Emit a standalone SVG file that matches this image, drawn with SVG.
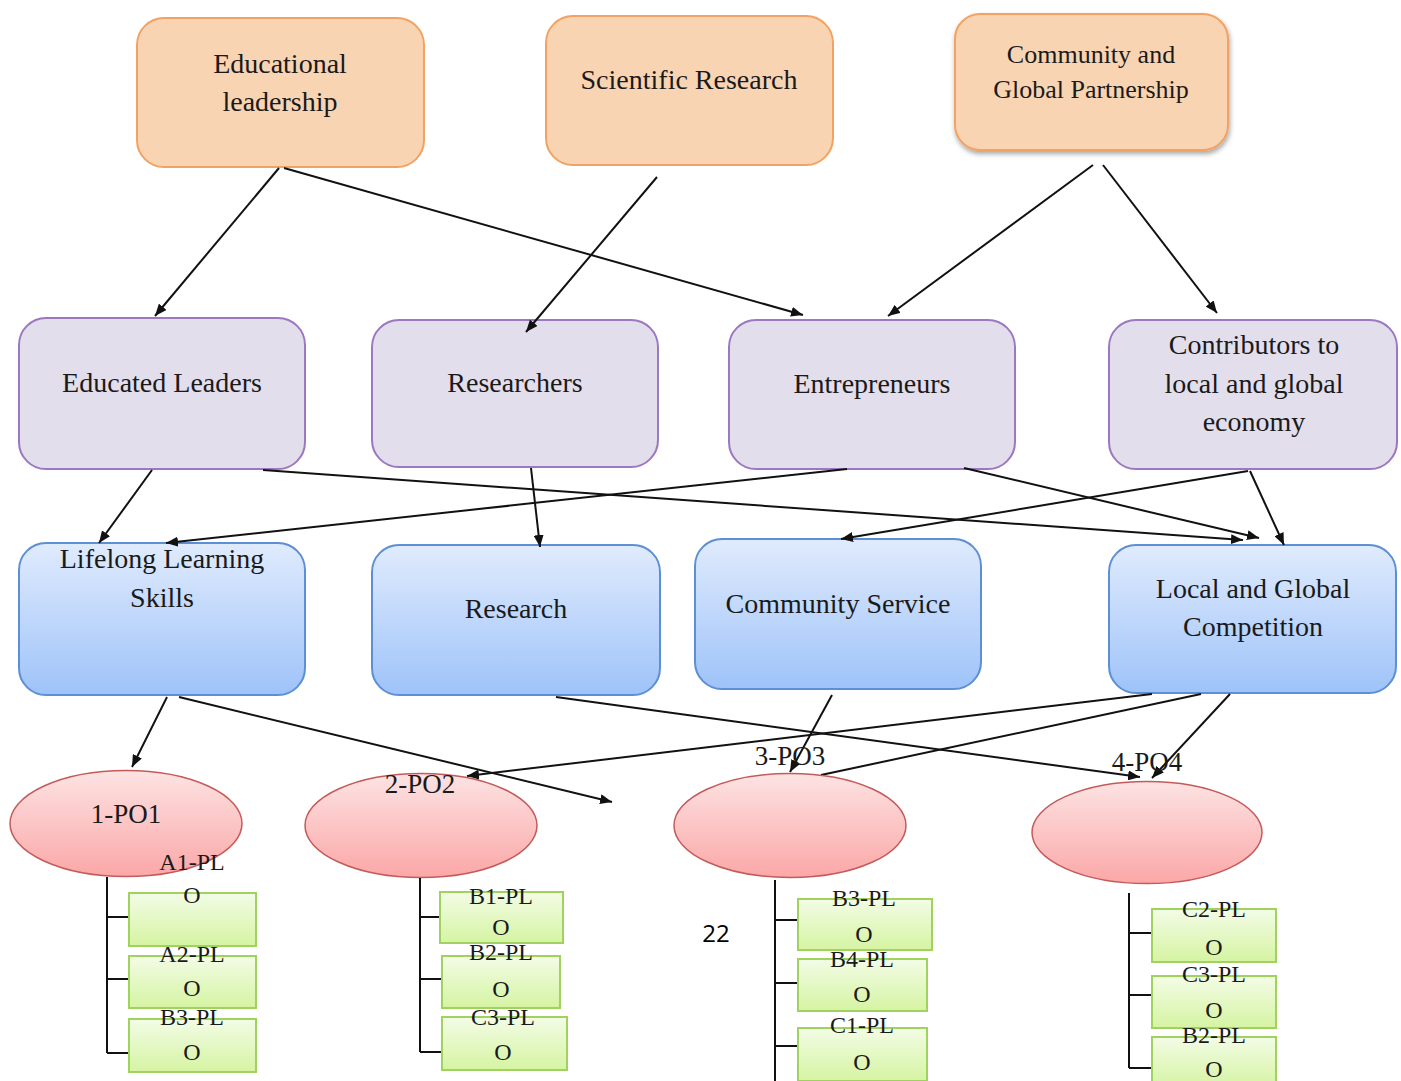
<svg xmlns="http://www.w3.org/2000/svg" width="1401" height="1081" viewBox="0 0 1401 1081">
<style>
  text { font-family: "Liberation Serif", "Times New Roman", serif; fill: #1a1a1a; text-anchor: middle; }
  .t28 { font-size: 28px; }
  .t26 { font-size: 26px; }
  .po { font-size: 27px; }
  .pl { font-size: 24px; }
  .orange { fill: #f9d4b3; stroke: #f2a262; stroke-width: 2; }
  .purple { fill: #e3deeb; stroke: #9b78c0; stroke-width: 2; }
  .blue { fill: url(#gBlue); stroke: #5d8fd4; stroke-width: 2; }
  .pink { fill: url(#gPink); stroke: #c45a5a; stroke-width: 1.5; }
  .green { fill: url(#gGreen); stroke: #9fd35e; stroke-width: 2; }
  .conn line { stroke: #111; stroke-width: 2; fill: none; }
  .arr { marker-end: url(#ah); }
  .tree { stroke: #111; stroke-width: 2; fill: none; }
</style>
<defs>
  <linearGradient id="gBlue" x1="0" y1="0" x2="0" y2="1">
    <stop offset="0" stop-color="#e0ebfd"/>
    <stop offset="1" stop-color="#9ec3f9"/>
  </linearGradient>
  <linearGradient id="gPink" x1="0" y1="0" x2="0" y2="1">
    <stop offset="0" stop-color="#fde3e3"/>
    <stop offset="1" stop-color="#fba7a7"/>
  </linearGradient>
  <linearGradient id="gGreen" x1="0" y1="0" x2="0" y2="1">
    <stop offset="0" stop-color="#f3fce6"/>
    <stop offset="1" stop-color="#d5f4a2"/>
  </linearGradient>
  <filter id="shadow" x="-10%" y="-10%" width="120%" height="130%">
    <feDropShadow dx="1" dy="3" stdDeviation="2.5" flood-color="#000" flood-opacity="0.35"/>
  </filter>
  <marker id="ah" viewBox="0 0 12 10" refX="12" refY="5" markerWidth="12" markerHeight="10" markerUnits="userSpaceOnUse" orient="auto">
    <path d="M0,0 L12,5 L0,10 Z" fill="#111"/>
  </marker>
</defs>
<rect width="1401" height="1081" fill="#ffffff"/>

<!-- Top row -->
<g id="educational-leadership">
  <rect class="orange" x="137" y="18" width="287" height="149" rx="27"/>
  <text class="t28" x="280" y="73">Educational</text>
  <text class="t28" x="280" y="111">leadership</text>
</g>
<g id="scientific-research">
  <rect class="orange" x="546" y="16" width="287" height="149" rx="27"/>
  <text class="t28" x="689" y="89">Scientific Research</text>
</g>
<g id="community-partnership">
  <rect class="orange" x="955" y="14" width="273" height="136" rx="25" filter="url(#shadow)"/>
  <text class="t26" x="1091" y="63">Community and</text>
  <text class="t26" x="1091" y="98">Global Partnership</text>
</g>

<!-- Second row -->
<g id="educated-leaders">
  <rect class="purple" x="19" y="318" width="286" height="151" rx="27"/>
  <text class="t28" x="162" y="392">Educated Leaders</text>
</g>
<g id="researchers">
  <rect class="purple" x="372" y="320" width="286" height="147" rx="27"/>
  <text class="t28" x="515" y="392">Researchers</text>
</g>
<g id="entrepreneurs">
  <rect class="purple" x="729" y="320" width="286" height="149" rx="27"/>
  <text class="t28" x="872" y="393">Entrepreneurs</text>
</g>
<g id="contributors">
  <rect class="purple" x="1109" y="320" width="288" height="149" rx="27"/>
  <text class="t28" x="1254" y="354">Contributors to</text>
  <text class="t28" x="1254" y="393">local and global</text>
  <text class="t28" x="1254" y="431">economy</text>
</g>

<!-- Third row -->
<g id="lifelong-learning">
  <rect class="blue" x="19" y="543" width="286" height="152" rx="27"/>
  <text class="t28" x="162" y="568">Lifelong Learning</text>
  <text class="t28" x="162" y="607">Skills</text>
</g>
<g id="research">
  <rect class="blue" x="372" y="545" width="288" height="150" rx="27"/>
  <text class="t28" x="516" y="618">Research</text>
</g>
<g id="community-service">
  <rect class="blue" x="695" y="539" width="286" height="150" rx="27"/>
  <text class="t28" x="838" y="613">Community Service</text>
</g>
<g id="local-global-competition">
  <rect class="blue" x="1109" y="545" width="287" height="148" rx="27"/>
  <text class="t28" x="1253" y="598">Local and Global</text>
  <text class="t28" x="1253" y="636">Competition</text>
</g>

<!-- Connectors -->
<g id="connectors" class="conn">
  <line class="arr" x1="279" y1="168" x2="155" y2="316"/>
  <line class="arr" x1="284" y1="168" x2="803" y2="315"/>
  <line class="arr" x1="657" y1="177" x2="526" y2="332"/>
  <line class="arr" x1="1093" y1="165" x2="888" y2="316"/>
  <line class="arr" x1="1103" y1="165" x2="1217" y2="313"/>

  <line class="arr" x1="152" y1="470" x2="99" y2="543"/>
  <line class="arr" x1="263" y1="470" x2="1243" y2="540"/>
  <line class="arr" x1="847" y1="469" x2="166" y2="543"/>
  <line class="arr" x1="531" y1="468" x2="540" y2="547"/>
  <line class="arr" x1="964" y1="468" x2="1259" y2="538"/>
  <line class="arr" x1="1248" y1="471" x2="841" y2="539"/>
  <line class="arr" x1="1250" y1="471" x2="1284" y2="545"/>

  <line class="arr" x1="167" y1="697" x2="132" y2="767"/>
  <line class="arr" x1="179" y1="697" x2="612" y2="802"/>
  <line class="arr" x1="556" y1="697" x2="1140" y2="777"/>
  <line class="arr" x1="832" y1="695" x2="790" y2="772"/>
  <line class="arr" x1="1152" y1="694" x2="467" y2="776"/>
  <line x1="1201" y1="694" x2="821" y2="775"/>
  <line class="arr" x1="1230" y1="694" x2="1152" y2="778"/>
</g>

<!-- PO ellipses -->
<g id="po1">
  <ellipse class="pink" cx="126" cy="823.5" rx="116" ry="53"/>
  <text class="po" x="126" y="823">1-PO1</text>
</g>
<g id="po2">
  <ellipse class="pink" cx="421" cy="825.5" rx="116" ry="52"/>
  <text class="po" x="420" y="793">2-PO2</text>
</g>
<g id="po3">
  <ellipse class="pink" cx="790" cy="825.5" rx="116" ry="52"/>
  <text class="po" x="790" y="765">3-PO3</text>
</g>
<g id="po4">
  <ellipse class="pink" cx="1147" cy="832.5" rx="115" ry="51"/>
  <text class="po" x="1147" y="771">4-PO4</text>
</g>

<!-- Tree lines -->
<g id="tree-lines">
  <path class="tree" d="M107,877 V1053 M107,917 H129 M107,979 H129 M107,1053 H129"/>
  <path class="tree" d="M420,878 V1052 M420,917 H440 M420,979 H441 M420,1052 H442"/>
  <path class="tree" d="M775,880 V1081 M775,920 H797 M775,983 H797 M775,1046 H797"/>
  <path class="tree" d="M1129,893 V1068 M1129,933 H1152 M1129,995 H1152 M1129,1068 H1152"/>
</g>

<!-- PLO boxes -->
<g id="a1-plo">
  <rect class="green" x="129" y="893" width="127" height="53"/>
  <text class="pl" x="192" y="870">A1-PL</text>
  <text class="pl" x="192" y="903">O</text>
</g>
<g id="a2-plo">
  <rect class="green" x="129" y="956" width="127" height="52"/>
  <text class="pl" x="192" y="962">A2-PL</text>
  <text class="pl" x="192" y="996">O</text>
</g>
<g id="b3-plo-1">
  <rect class="green" x="129" y="1019" width="127" height="53"/>
  <text class="pl" x="192" y="1025">B3-PL</text>
  <text class="pl" x="192" y="1060">O</text>
</g>

<g id="b1-plo">
  <rect class="green" x="440" y="892" width="123" height="51"/>
  <text class="pl" x="501" y="904">B1-PL</text>
  <text class="pl" x="501" y="935">O</text>
</g>
<g id="b2-plo-2">
  <rect class="green" x="442" y="956" width="118" height="52"/>
  <text class="pl" x="501" y="960">B2-PL</text>
  <text class="pl" x="501" y="997">O</text>
</g>
<g id="c3-plo-2">
  <rect class="green" x="442" y="1017" width="125" height="53"/>
  <text class="pl" x="503" y="1025">C3-PL</text>
  <text class="pl" x="503" y="1060">O</text>
</g>

<g id="b3-plo-3">
  <rect class="green" x="798" y="899" width="134" height="51"/>
  <text class="pl" x="864" y="906">B3-PL</text>
  <text class="pl" x="864" y="942">O</text>
</g>
<g id="b4-plo">
  <rect class="green" x="798" y="959" width="129" height="52"/>
  <text class="pl" x="862" y="967">B4-PL</text>
  <text class="pl" x="862" y="1002">O</text>
</g>
<g id="c1-plo">
  <rect class="green" x="798" y="1028" width="129" height="53"/>
  <text class="pl" x="862" y="1033">C1-PL</text>
  <text class="pl" x="862" y="1070">O</text>
</g>

<g id="c2-plo">
  <rect class="green" x="1152" y="909" width="124" height="53"/>
  <text class="pl" x="1214" y="917">C2-PL</text>
  <text class="pl" x="1214" y="955">O</text>
</g>
<g id="c3-plo-4">
  <rect class="green" x="1152" y="976" width="124" height="52"/>
  <text class="pl" x="1214" y="982">C3-PL</text>
  <text class="pl" x="1214" y="1018">O</text>
</g>
<g id="b2-plo-4">
  <rect class="green" x="1152" y="1037" width="124" height="50"/>
  <text class="pl" x="1214" y="1043">B2-PL</text>
  <text class="pl" x="1214" y="1077">O</text>
</g>

<text x="716" y="942" style="font-family:'Open Sans','Liberation Sans',sans-serif;font-size:24px;fill:#000">22</text>
</svg>
